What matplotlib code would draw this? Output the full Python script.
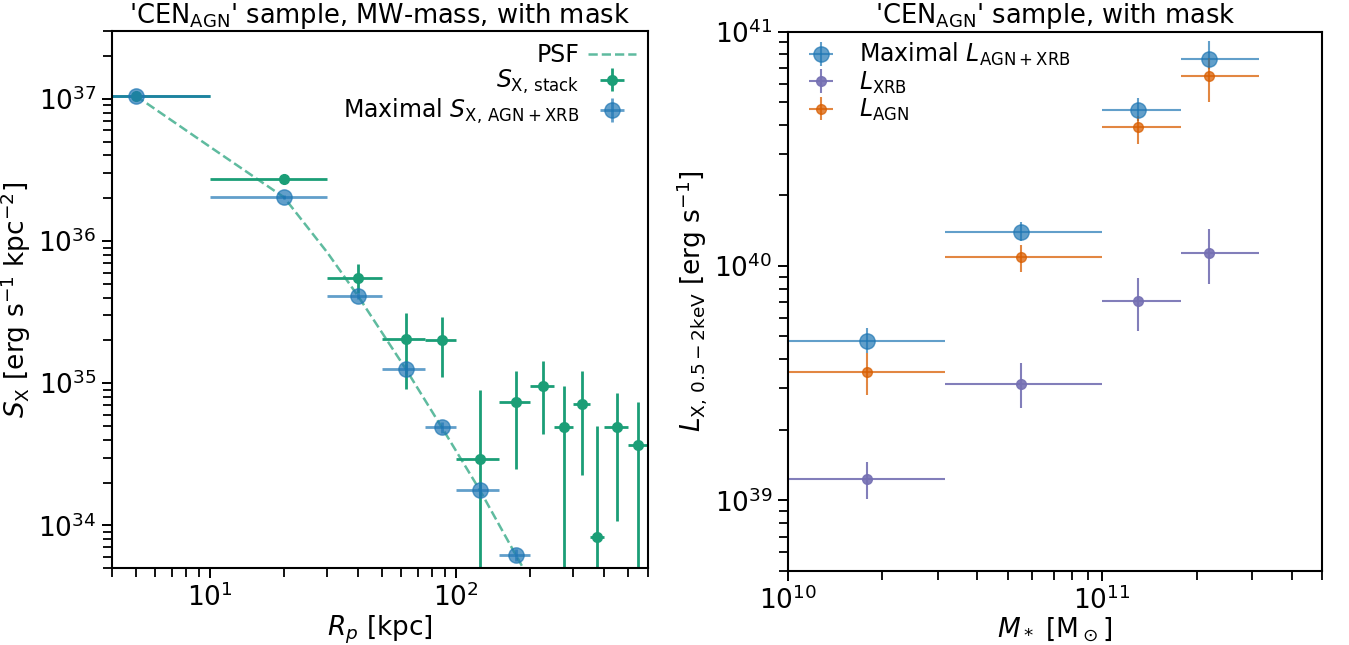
import numpy as np
import matplotlib
matplotlib.use('Agg')
import matplotlib.pyplot as plt

# ---- left panel: surface brightness profile ----
r_center = [5, 20, 40, 62.5, 87.5, 125, 175, 225, 275, 325, 375, 450, 550]
r_lo = [0, 10, 30, 50, 75, 100, 150, 200, 250, 300, 350, 400, 500]
r_hi = [10, 30, 50, 75, 100, 150, 200, 250, 300, 350, 400, 500, 600]

sx_stack = [1.05e37, 2.75e36, 5.5e35, 2.04e35, 2.02e35, 2.95e34, 7.4e34,
            9.5e34, 4.9e34, 7.2e34, 8.3e33, 4.9e34, 3.67e34]
sx_stack_hi = [1.08e37, 2.85e36, 6.9e35, 3.1e35, 2.9e35, 8.9e34, 1.21e35,
               1.44e35, 9.5e34, 1.21e35, 5.0e34, 8.6e34, 7.4e34]
sx_stack_lo = [1.02e37, 2.65e36, 4.3e35, 9.1e34, 1.1e35, 1e33, 2.5e34,
               4.4e34, 1e33, 2.26e34, 1e33, 1.07e34, 1e33]

n_max = 7
sx_max = [1.05e37, 2.03e36, 4.1e35, 1.26e35, 4.9e34, 1.77e34, 6.2e33]
sx_max_hi = [1.08e37, 2.1e36, 4.3e35, 1.36e35, 5.3e34, 1.95e34, 6.8e33]
sx_max_lo = [1.02e37, 1.96e36, 3.9e35, 1.16e35, 4.5e34, 1.6e34, 5.6e33]

psf_r = [5, 10, 20, 30, 40, 62.5, 87.5, 125, 175, 200]
psf_s = [1.05e37, 4.6e36, 2.03e36, 8.3e35, 4.1e35, 1.26e35, 4.9e34, 1.77e34, 6.2e33, 4.1e33]

# ---- right panel: luminosity vs stellar mass ----
m_center = [1.79e10, 5.5e10, 1.3e11, 2.19e11]
m_lo = [1e10, 10**10.5, 1e11, 10**11.25]
m_hi = [10**10.5, 1e11, 10**11.25, 10**11.5]

l_max = [4.77e39, 1.40e40, 4.64e40, 7.64e40]
l_max_hi = [5.45e39, 1.54e40, 5.2e40, 9.1e40]
l_max_lo = [4.25e39, 1.28e40, 4.14e40, 6.9e40]

l_xrb = [1.23e39, 3.15e39, 7.1e39, 1.14e40]
l_xrb_hi = [1.45e39, 3.84e39, 8.85e39, 1.44e40]
l_xrb_lo = [1.01e39, 2.47e39, 5.3e39, 8.4e39]

l_agn = [3.53e39, 1.09e40, 3.93e40, 6.49e40]
l_agn_hi = [4.24e39, 1.23e40, 4.35e40, 7.7e40]
l_agn_lo = [2.81e39, 9.4e39, 3.32e40, 4.99e40]

green = '#1b9e77'
orange = '#d95f02'
purple = '#7570b3'
blue = 'tab:blue'


def errs(val, lo, hi):
    val = np.array(val)
    return [val - np.array(lo), np.array(hi) - val]


def style_axis(ax):
    ax.tick_params(which='major', length=7.5, width=1.4, labelsize=19, direction='out')
    ax.tick_params(which='minor', length=6.5, width=1.3, direction='out')
    for sp in ax.spines.values():
        sp.set_linewidth(1.5)


fig = plt.figure(figsize=(13.49, 6.45), dpi=100)
ax1 = fig.add_axes([0.083, 0.119, 0.397, 0.833])
ax2 = fig.add_axes([0.584, 0.115, 0.396, 0.836])

# left
ax1.set_xscale('log')
ax1.set_yscale('log')
ax1.plot(psf_r, psf_s, ls='--', color=green, alpha=0.7, lw=1.8, label='PSF')
ax1.errorbar(r_center, sx_stack, yerr=errs(sx_stack, sx_stack_lo, sx_stack_hi),
             xerr=errs(r_center, r_lo, r_hi), fmt='o', color=green, ms=7, lw=2,
             label=r'$S_{\rm X,\, stack}$')
ax1.errorbar(r_center[:n_max], sx_max, yerr=errs(sx_max, sx_max_lo, sx_max_hi),
             xerr=errs(r_center[:n_max], r_lo[:n_max], r_hi[:n_max]), fmt='o',
             color=blue, alpha=0.7, ms=11, lw=2,
             label=r'Maximal $S_{\rm X,\, AGN+XRB}$')
ax1.set_xlim(4, 600)
ax1.set_ylim(5e33, 3e37)
ax1.set_xlabel(r'$R_p$ [kpc]', fontsize=19, labelpad=1)
ax1.set_ylabel(r'$S_{\rm X}$ [erg s$^{-1}$ kpc$^{-2}$]', fontsize=19)
ax1.set_title(r"'CEN$_{\rm AGN}$' sample, MW-mass, with mask", fontsize=18.5)
ax1.legend(loc='upper right', frameon=False, markerfirst=False, fontsize=17,
           borderaxespad=0.1, handletextpad=0.4, labelspacing=0.05)
style_axis(ax1)

# right
ax2.set_xscale('log')
ax2.set_yscale('log')
ax2.errorbar(m_center, l_max, yerr=errs(l_max, l_max_lo, l_max_hi),
             xerr=errs(m_center, m_lo, m_hi), fmt='o', color=blue, alpha=0.7,
             ms=11, lw=1.5, label=r'Maximal $L_{\rm AGN+XRB}$')
ax2.errorbar(m_center, l_xrb, yerr=errs(l_xrb, l_xrb_lo, l_xrb_hi),
             xerr=errs(m_center, m_lo, m_hi), fmt='o', color=purple, alpha=0.9,
             ms=7, lw=1.5, label=r'$L_{\rm XRB}$')
ax2.errorbar(m_center, l_agn, yerr=errs(l_agn, l_agn_lo, l_agn_hi),
             xerr=errs(m_center, m_lo, m_hi), fmt='o', color=orange, alpha=0.75,
             ms=7, lw=1.5, label=r'$L_{\rm AGN}$')
ax2.set_xlim(1e10, 5e11)
ax2.set_ylim(5e38, 1e41)
ax2.set_xlabel(r'$M_*$ [M$_\odot$]', fontsize=19, labelpad=1)
ax2.set_ylabel(r'$L_{\rm X,\, 0.5-2keV}$ [erg s$^{-1}$]', fontsize=19)
ax2.set_title(r"'CEN$_{\rm AGN}$' sample, with mask", fontsize=18.5)
ax2.legend(loc='upper left', frameon=False, fontsize=17, borderaxespad=0.0,
           handletextpad=0.6, labelspacing=0.05)
style_axis(ax2)

fig.savefig('out.png', dpi=100)
